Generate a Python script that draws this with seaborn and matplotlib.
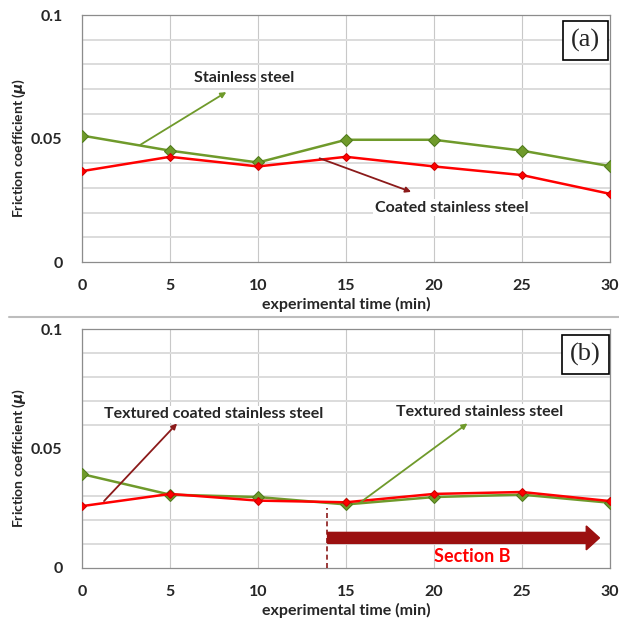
import pandas as pd
import matplotlib
matplotlib.use("Agg")
import matplotlib.pyplot as plt
import seaborn as sns
from matplotlib.lines import Line2D

# Data
time_min = [0, 5, 10, 15, 20, 25, 30]
stainless = [0.0512, 0.0451, 0.0403, 0.0495, 0.0495, 0.0451, 0.0388]
coated = [0.0368, 0.0426, 0.0387, 0.0426, 0.0387, 0.0352, 0.0276]
textured_stainless = [0.0393, 0.0307, 0.0297, 0.0266, 0.0297, 0.0307, 0.0273]
textured_coated = [0.0259, 0.0310, 0.0282, 0.0275, 0.0310, 0.0318, 0.0280]

x_ticks = [0, 5, 10, 15, 20, 25, 30]
y_ticks = [0, 0.05, 0.1]
y_tick_labels = ["0", "0.05", "0.1"]

green = "#6f9a2b"
green_edge = "#4f7a1b"
red = "#ff0000"
dark_red = "#8b1a1a"
arrow_red = "#9b1010"

sns.set_style("white")
plt.rcParams["font.family"] = ["Lato", "DejaVu Sans"]
plt.rcParams["font.weight"] = "bold"

fig = plt.figure(figsize=(6.19, 6.19), dpi=100)
ax_a = fig.add_axes([0.1325, 0.5767, 0.853, 0.399])
ax_b = fig.add_axes([0.1325, 0.0824, 0.853, 0.386])

df_a = pd.DataFrame({"t": time_min, "ss": stainless, "css": coated})
df_b = pd.DataFrame({"t": time_min, "tss": textured_stainless, "tcss": textured_coated})


def style_axes(ax):
    ax.set_xlim(0, 30)
    ax.set_ylim(0, 0.1)
    ax.set_xticks(x_ticks)
    ax.set_xticklabels([str(v) for v in x_ticks], fontsize=11.5, fontweight="bold")
    ax.set_yticks(y_ticks)
    ax.set_yticklabels(y_tick_labels, fontsize=11.5, fontweight="bold")
    ax.set_yticks([i / 100 for i in range(11)], minor=True)
    ax.grid(True, which="major", axis="x", color="#c8c8c8", linewidth=0.8)
    ax.grid(True, which="minor", axis="y", color="#dcdcdc", linewidth=1.4)
    ax.tick_params(axis="both", which="both", length=0)
    ax.tick_params(axis="x", pad=12)
    ax.tick_params(axis="y", pad=14)
    for sp in ax.spines.values():
        sp.set_color("#8c8c8c")
        sp.set_linewidth(0.9)
    ax.set_xlabel("experimental time (min)", fontsize=11.5, fontweight="bold", labelpad=3)
    ax.set_ylabel(r"Friction coefficient ($\mathit{\mu}$)", fontsize=10,
                  fontweight="bold")
    ax.yaxis.set_label_coords(-0.102, 0.46)


def panel_tag(ax, text, x, y):
    ax.text(x, y, text, fontsize=19, family="Liberation Serif", fontweight="normal",
            ha="center", va="center", zorder=6,
            bbox=dict(boxstyle="square,pad=0.3", facecolor="white",
                      edgecolor="black", linewidth=1.2))


def arrow(ax, start, end, color):
    ax.annotate("", xy=end, xytext=start, zorder=4,
                arrowprops=dict(arrowstyle="-|>", color=color, lw=1.3,
                                mutation_scale=8, shrinkA=0, shrinkB=0))


# Panel (a)
sns.lineplot(data=df_a, x="t", y="ss", ax=ax_a, color=green, linewidth=1.8,
             marker="D", markersize=6, markerfacecolor=green,
             markeredgecolor=green_edge, zorder=3)
sns.lineplot(data=df_a, x="t", y="css", ax=ax_a, color=red, linewidth=1.8,
             marker="D", markersize=4.5, markerfacecolor=red,
             markeredgecolor="#cc0000", zorder=3)
style_axes(ax_a)
panel_tag(ax_a, "(a)", 28.6, 0.0897)
arrow(ax_a, (3.3, 0.0474), (8.2, 0.0688), green)
ax_a.text(9.2, 0.0745, "Stainless steel", fontsize=11.5, fontweight="bold",
          ha="center", va="center", zorder=5)
arrow(ax_a, (13.5, 0.0420), (18.7, 0.0284), dark_red)
ax_a.text(21.0, 0.0219, "Coated stainless steel", fontsize=11.5, fontweight="bold",
          ha="center", va="center", zorder=5,
          bbox=dict(facecolor="white", edgecolor="none", pad=1))

# Panel (b)
sns.lineplot(data=df_b, x="t", y="tss", ax=ax_b, color=green, linewidth=1.8,
             marker="D", markersize=6, markerfacecolor=green,
             markeredgecolor=green_edge, zorder=3)
sns.lineplot(data=df_b, x="t", y="tcss", ax=ax_b, color=red, linewidth=1.8,
             marker="D", markersize=4.5, markerfacecolor=red,
             markeredgecolor="#cc0000", zorder=3)
style_axes(ax_b)
panel_tag(ax_b, "(b)", 28.6, 0.0894)
arrow(ax_b, (1.25, 0.0280), (5.4, 0.0605), dark_red)
ax_b.text(7.5, 0.0643, "Textured coated stainless steel", fontsize=11.5,
          fontweight="bold", ha="center", va="center", zorder=5,
          bbox=dict(facecolor="white", edgecolor="none", pad=1))
arrow(ax_b, (15.75, 0.0271), (21.9, 0.0605), green)
ax_b.text(22.6, 0.0653, "Textured stainless steel", fontsize=11.5,
          fontweight="bold", ha="center", va="center", zorder=5,
          bbox=dict(facecolor="white", edgecolor="none", pad=1))

# Section B marker
ax_b.plot([13.9, 13.9], [0, 0.025], color=dark_red, linestyle=(0, (3, 2)),
          linewidth=1.2, zorder=4)
ax_b.arrow(13.95, 0.0126, 15.45, 0, width=0.0046, head_width=0.0100,
           head_length=0.75, length_includes_head=True, color=arrow_red,
           zorder=5)
ax_b.text(22.2, 0.0049, "Section B", color=red, fontsize=13, fontweight="bold",
          ha="center", va="center", zorder=5)

# Separator line between panels
fig.add_artist(Line2D([0.015, 1.0], [1 - 317 / 619, 1 - 317 / 619],
                      color="#bdbdbd", linewidth=1.5))

fig.savefig("out.png", dpi=100)
